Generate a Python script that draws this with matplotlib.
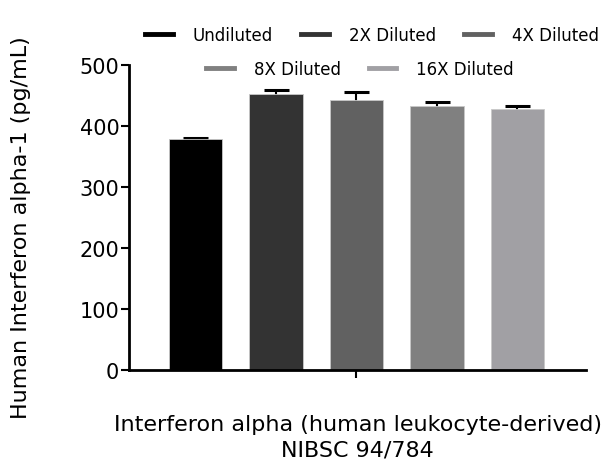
import matplotlib
matplotlib.use('Agg')
import matplotlib.pyplot as plt
from matplotlib.lines import Line2D

labels = ['Undiluted', '2X Diluted', '4X Diluted', '8X Diluted', '16X Diluted']
means = [378, 452, 443, 432, 428]
errs = [3, 7.5, 12, 7.7, 4.3]
colors = ['#000000', '#333333', '#616161', '#808080', '#a1a0a4']

plt.rcParams['font.family'] = ['DejaVu Sans']

fig = plt.figure(figsize=(6.03, 4.64), dpi=100)
ax = fig.add_axes([129/603, 93/464, 457/603, 305/464])

x = list(range(len(means)))
ax.bar(x, means, width=0.66, color=colors, edgecolor='#c8c8c8', linewidth=0.6, zorder=2)
# error bars behind bars so only the upper cap shows
ax.errorbar(x, means, yerr=errs, fmt='none', ecolor='black',
            elinewidth=1.5, capsize=9, capthick=2.2, zorder=1)

ax.set_xlim(-0.826, 4.851)
ax.set_ylim(0, 500)
ax.set_yticks([0, 100, 200, 300, 400, 500])
ax.set_xticks([2])
ax.set_xticklabels([''])
for s in ['top', 'right']:
    ax.spines[s].set_visible(False)
for s in ['left', 'bottom']:
    ax.spines[s].set_linewidth(2)
ax.tick_params(axis='both', width=1.5, length=6, labelsize=15, pad=1)

ax.set_ylabel('Human Interferon alpha-1 (pg/mL)', fontsize=16)
ax.yaxis.set_label_coords(-0.215, 0.47)
ax.set_xlabel('Interferon alpha (human leukocyte-derived)\nNIBSC 94/784', fontsize=16,
              linespacing=1.3, labelpad=25)

handles = [Line2D([0], [0], color=c, lw=3.5) for c in colors]
kw = dict(frameon=False, fontsize=12, handlelength=1.65, handletextpad=1.2, columnspacing=1.7,
          borderpad=0, borderaxespad=0)
fig.legend(handles[:3], labels[:3], ncol=3, loc='center', bbox_to_anchor=(0.617, 1 - 36/464), **kw)
fig.legend(handles[3:], labels[3:], ncol=2, loc='center', bbox_to_anchor=(0.597, 1 - 70/464), **kw)

fig.savefig('out.png', dpi=100)
